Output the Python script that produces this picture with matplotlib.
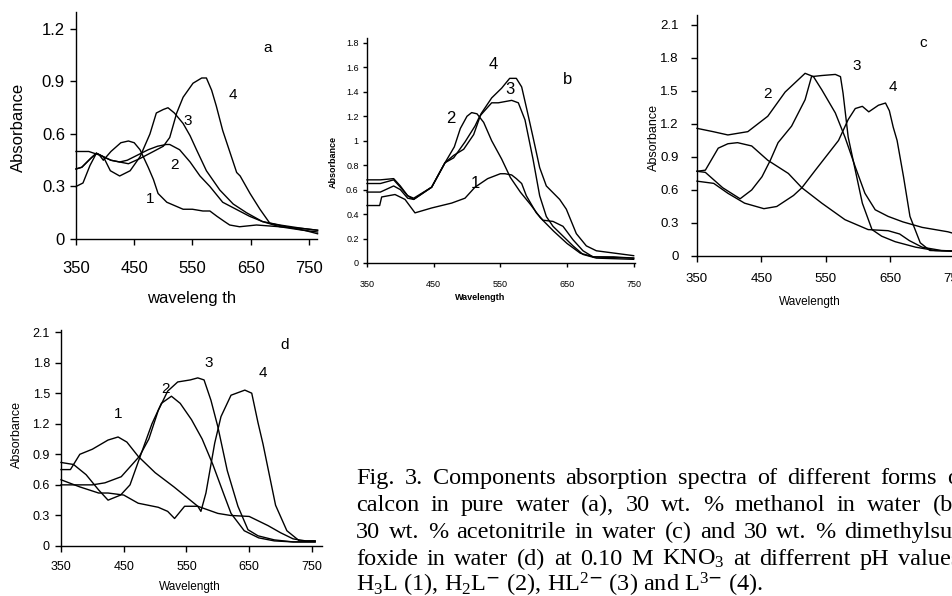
import matplotlib
matplotlib.use("Agg")
import matplotlib.pyplot as plt

plt.rcParams['font.family'] = ['Liberation Sans', 'DejaVu Sans']
plt.rcParams['mathtext.fontset'] = 'custom'
plt.rcParams['mathtext.rm'] = 'Liberation Serif'
plt.rcParams['mathtext.it'] = 'Liberation Serif'

W, H = 953, 596

# ---------------- data: panel a (pure water) ----------------
a1_wl = [350, 372, 390, 397, 410, 427, 440, 450, 460, 474, 483, 491, 506, 520, 534, 550, 568, 580, 592, 605, 614, 631, 660, 700, 740, 765]
a1_ab = [0.50, 0.50, 0.48, 0.45, 0.50, 0.55, 0.56, 0.55, 0.51, 0.41, 0.34, 0.26, 0.21, 0.19, 0.17, 0.17, 0.16, 0.16, 0.13, 0.10, 0.08, 0.07, 0.08, 0.07, 0.06, 0.05]
a2_wl = [350, 360, 375, 385, 397, 410, 425, 438, 456, 474, 490, 505, 511, 528, 546, 563, 580, 602, 625, 648, 670, 700, 740, 765]
a2_ab = [0.40, 0.41, 0.46, 0.49, 0.47, 0.45, 0.44, 0.45, 0.48, 0.51, 0.53, 0.54, 0.54, 0.51, 0.44, 0.36, 0.30, 0.21, 0.17, 0.13, 0.10, 0.08, 0.06, 0.05]
a3_wl = [350, 362, 374, 385, 397, 409, 425, 443, 460, 477, 488, 500, 508, 519, 534, 546, 557, 574, 597, 620, 643, 670, 700, 740, 765]
a3_ab = [0.30, 0.32, 0.42, 0.49, 0.47, 0.39, 0.36, 0.39, 0.47, 0.60, 0.72, 0.74, 0.75, 0.72, 0.66, 0.59, 0.51, 0.39, 0.28, 0.20, 0.15, 0.10, 0.07, 0.05, 0.04]
a4_wl = [350, 360, 375, 385, 397, 410, 425, 440, 460, 483, 500, 511, 523, 534, 551, 566, 574, 583, 591, 602, 614, 626, 632, 649, 666, 683, 711, 742, 765]
a4_ab = [0.40, 0.41, 0.46, 0.49, 0.47, 0.45, 0.44, 0.43, 0.46, 0.50, 0.53, 0.58, 0.72, 0.81, 0.89, 0.92, 0.92, 0.85, 0.76, 0.62, 0.50, 0.38, 0.36, 0.26, 0.17, 0.09, 0.07, 0.05, 0.03]

# ---------------- data: panel b (30 % methanol) ----------------
b1_wl = [350, 369, 372, 392, 407, 422, 447, 477, 497, 512, 531, 550, 557, 567, 574, 582, 589, 604, 614, 629, 644, 659, 674, 689, 720, 750]
b1_ab = [0.47, 0.47, 0.54, 0.56, 0.52, 0.41, 0.45, 0.49, 0.53, 0.62, 0.69, 0.73, 0.73, 0.72, 0.69, 0.65, 0.55, 0.41, 0.35, 0.34, 0.30, 0.19, 0.10, 0.05, 0.05, 0.04]
b2_wl = [350, 370, 390, 400, 411, 420, 447, 467, 481, 490, 500, 507, 515, 525, 537, 552, 565, 580, 595, 610, 630, 650, 670, 690, 750]
b2_ab = [0.65, 0.65, 0.68, 0.62, 0.55, 0.52, 0.62, 0.82, 0.95, 1.10, 1.20, 1.23, 1.22, 1.15, 1.00, 0.85, 0.70, 0.58, 0.48, 0.37, 0.26, 0.16, 0.08, 0.05, 0.04]
b3_wl = [350, 370, 390, 400, 411, 420, 447, 467, 480, 497, 512, 519, 537, 547, 567, 577, 587, 599, 609, 619, 629, 644, 659, 674, 694, 750]
b3_ab = [0.58, 0.58, 0.63, 0.60, 0.53, 0.52, 0.62, 0.82, 0.86, 0.99, 1.12, 1.20, 1.31, 1.31, 1.33, 1.31, 1.17, 0.85, 0.55, 0.38, 0.30, 0.22, 0.14, 0.07, 0.04, 0.03]
b4_wl = [350, 370, 390, 400, 411, 420, 447, 467, 480, 495, 510, 521, 537, 552, 564, 574, 582, 590, 599, 609, 619, 639, 649, 664, 679, 694, 750]
b4_ab = [0.68, 0.68, 0.69, 0.63, 0.55, 0.53, 0.62, 0.82, 0.88, 0.93, 1.05, 1.22, 1.35, 1.43, 1.51, 1.51, 1.44, 1.25, 1.03, 0.78, 0.63, 0.52, 0.44, 0.24, 0.14, 0.10, 0.06]

# ---------------- data: panel c (30 % acetonitrile) ----------------
c1_wl = [350, 363, 383, 398, 413, 435, 460, 492, 513, 544, 580, 616, 647, 665, 680, 700, 730, 770]
c1_ab = [0.77, 0.78, 0.98, 1.02, 1.03, 1.00, 0.87, 0.75, 0.62, 0.48, 0.33, 0.24, 0.23, 0.20, 0.14, 0.08, 0.05, 0.04]
c2_wl = [350, 375, 398, 429, 460, 487, 518, 531, 544, 565, 580, 596, 611, 627, 647, 670, 700, 740, 770]
c2_ab = [1.16, 1.13, 1.10, 1.13, 1.27, 1.49, 1.66, 1.63, 1.51, 1.30, 1.08, 0.81, 0.57, 0.42, 0.36, 0.31, 0.26, 0.22, 0.17]
c3_wl = [350, 363, 390, 417, 435, 451, 464, 476, 497, 518, 528, 544, 565, 573, 577, 585, 596, 607, 622, 637, 658, 690, 720, 770]
c3_ab = [0.77, 0.76, 0.62, 0.52, 0.60, 0.72, 0.87, 1.03, 1.18, 1.42, 1.63, 1.64, 1.65, 1.63, 1.48, 1.08, 0.78, 0.48, 0.24, 0.18, 0.13, 0.08, 0.05, 0.04]
c4_wl = [350, 376, 398, 424, 454, 474, 500, 513, 534, 554, 570, 585, 596, 607, 617, 632, 643, 649, 655, 661, 671, 681, 697, 712, 770]
c4_ab = [0.68, 0.66, 0.57, 0.48, 0.43, 0.45, 0.55, 0.62, 0.78, 0.93, 1.05, 1.24, 1.34, 1.36, 1.31, 1.37, 1.39, 1.32, 1.17, 1.05, 0.72, 0.36, 0.12, 0.05, 0.04]

# ---------------- data: panel d (30 % DMSO) ----------------
d1_wl = [350, 365, 380, 400, 425, 441, 455, 473, 500, 530, 568, 600, 620, 650, 680, 700, 720, 740, 755]
d1_ab = [0.75, 0.75, 0.90, 0.95, 1.04, 1.07, 1.02, 0.88, 0.72, 0.58, 0.39, 0.32, 0.30, 0.29, 0.20, 0.13, 0.07, 0.05, 0.05]
d2_wl = [350, 370, 390, 410, 425, 445, 460, 478, 495, 510, 526, 540, 558, 575, 592, 610, 621, 642, 665, 690, 720, 755]
d2_ab = [0.82, 0.80, 0.70, 0.55, 0.45, 0.50, 0.60, 0.91, 1.20, 1.40, 1.47, 1.40, 1.24, 1.05, 0.80, 0.50, 0.32, 0.15, 0.08, 0.05, 0.04, 0.04]
d3_wl = [350, 370, 400, 420, 446, 475, 490, 505, 520, 536, 556, 568, 578, 589, 600, 615, 632, 648, 664, 690, 720, 755]
d3_ab = [0.60, 0.60, 0.60, 0.62, 0.68, 0.88, 1.05, 1.33, 1.52, 1.61, 1.63, 1.65, 1.63, 1.43, 1.17, 0.74, 0.39, 0.16, 0.10, 0.06, 0.04, 0.04]
d4_wl = [350, 380, 410, 425, 450, 473, 489, 505, 520, 531, 547, 568, 573, 581, 595, 605, 621, 643, 654, 664, 672, 682, 692, 710, 730, 755]
d4_ab = [0.65, 0.58, 0.52, 0.52, 0.50, 0.42, 0.40, 0.38, 0.34, 0.27, 0.39, 0.39, 0.34, 0.52, 1.01, 1.27, 1.48, 1.53, 1.50, 1.21, 1.00, 0.70, 0.40, 0.15, 0.05, 0.05]

x_ticks = [350, 450, 550, 650, 750]
a_yticks = [0, 0.3, 0.6, 0.9, 1.2]
a_ylabels = ["0", "0.3", "0.6", "0.9", "1.2"]
b_yticks = [0, 0.2, 0.4, 0.6, 0.8, 1.0, 1.2, 1.4, 1.6, 1.8]
b_ylabels = ["0", "0.2", "0.4", "0.6", "0.8", "1", "1.2", "1.4", "1.6", "1.8"]
cd_yticks = [0, 0.3, 0.6, 0.9, 1.2, 1.5, 1.8, 2.1]
cd_ylabels = ["0", "0.3", "0.6", "0.9", "1.2", "1.5", "1.8", "2.1"]

caption_lines = [
    "Fig. 3. Components absorption spectra of different forms of",
    "calcon in pure water (a), 30 wt. % methanol in water (b),",
    "30 wt. % acetonitrile in water (c) and 30 wt. % dimethylsul-",
    "foxide in water (d) at 0.10 M KNO$_3$ at differrent pH values:",
    "H$_3$L (1), H$_2$L$^{\\mathsf{-}}$ (2), HL$^{2\\mathsf{-}}$ (3) and L$^{3\\mathsf{-}}$ (4).",
]

fig = plt.figure(figsize=(W / 100, H / 100), dpi=100)


def add_axes(x0, y0, x1, y1):
    return fig.add_axes([x0 / W, 1 - y0 / H, (x1 - x0) / W, (y0 - y1) / H])


def style(ax, xlim, ylim, yticks, ylabels, fs, xpad, ypad, tlen=4):
    ax.set_xlim(*xlim)
    ax.set_ylim(*ylim)
    ax.set_xticks(x_ticks)
    ax.set_xticklabels([str(t) for t in x_ticks])
    ax.set_yticks(yticks)
    ax.set_yticklabels(ylabels)
    for s in ["top", "right"]:
        ax.spines[s].set_visible(False)
    for s in ["left", "bottom"]:
        ax.spines[s].set_linewidth(1.0)
    ax.tick_params(direction="out", length=tlen, width=1.0, labelsize=fs)
    ax.tick_params(axis="x", pad=xpad)
    ax.tick_params(axis="y", pad=ypad)
    ax.patch.set_alpha(0)


def draw(ax, series):
    for wl, ab in series:
        ax.plot(wl, ab, color="black", lw=1.0, clip_on=False)


def ftext(x, y, s, **kw):
    return fig.text(x / W, 1 - y / H, s, **kw)


# panel a
axa = add_axes(76, 239, 317, 12)
style(axa, (350, 764), (0, 1.297), a_yticks, a_ylabels, 12, xpad=12, ypad=4)
draw(axa, [(a1_wl, a1_ab), (a2_wl, a2_ab), (a3_wl, a3_ab), (a4_wl, a4_ab)])
for s, x, y in [("a", 680, 1.09), ("1", 478, 0.227), ("2", 520, 0.42), ("3", 542, 0.676), ("4", 620, 0.82)]:
    axa.text(x, y, s, fontsize=11, ha="center", va="center")
ftext(18, 127, "Absorbance", rotation=90, fontsize=12, ha="center", va="center")
ftext(192, 299, "waveleng th", fontsize=12, ha="center", va="center")

# panel b
axb = add_axes(367, 263, 635, 38)
style(axb, (350, 752), (0, 1.84), b_yticks, b_ylabels, 6.5, xpad=9, ypad=3, tlen=3)
draw(axb, [(b1_wl, b1_ab), (b2_wl, b2_ab), (b3_wl, b3_ab), (b4_wl, b4_ab)])
for s, x, y in [("b", 651, 1.50), ("4", 539, 1.62), ("3", 564, 1.42), ("2", 476, 1.18), ("1", 512, 0.65)]:
    axb.text(x, y, s, fontsize=12, ha="center", va="center")
ftext(333, 162, "Absorbance", rotation=90, fontsize=6.5, ha="center", va="center", fontweight="bold")
ftext(480, 297, "Wavelength", fontsize=6.5, ha="center", va="center", fontweight="bold")

# panel c
axc = add_axes(697, 256, 964, 15)
style(axc, (350, 765), (0, 2.19), cd_yticks, cd_ylabels, 9.5, xpad=8, ypad=9)
draw(axc, [(c1_wl, c1_ab), (c2_wl, c2_ab), (c3_wl, c3_ab), (c4_wl, c4_ab)])
for s, x, y in [("c", 702, 1.94), ("3", 599, 1.73), ("4", 655, 1.54), ("2", 460, 1.47)]:
    axc.text(x, y, s, fontsize=11, ha="center", va="center")
ftext(654, 138, "Absorbance", rotation=90, fontsize=9, ha="center", va="center")
ftext(810, 302, "Wavelength", fontsize=8.5, ha="center", va="center")

# panel d
axd = add_axes(61, 546, 322, 330)
style(axd, (350, 766), (0, 2.12), cd_yticks, cd_ylabels, 9, xpad=7, ypad=4)
draw(axd, [(d1_wl, d1_ab), (d2_wl, d2_ab), (d3_wl, d3_ab), (d4_wl, d4_ab)])
for s, x, y in [("d", 707, 1.97), ("3", 586, 1.80), ("4", 672, 1.70), ("2", 516, 1.54), ("1", 441, 1.30)]:
    axd.text(x, y, s, fontsize=11, ha="center", va="center")
ftext(17, 435, "Absorbance", rotation=90, fontsize=9, ha="center", va="center")
ftext(190, 587, "Wavelength", fontsize=8.5, ha="center", va="center")

# caption (justified lines, last line left-aligned)
cap_base = [484, 511, 538, 565, 592]
cap_left, cap_right = 356, 967
cap_fs = 17.5
renderer = fig.canvas.get_renderer()
for i, (line, yb) in enumerate(zip(caption_lines, cap_base)):
    if i == len(caption_lines) - 1:
        ftext(cap_left, yb, line, fontsize=cap_fs, family="Liberation Serif", ha="left", va="baseline")
        continue
    words = line.split(" ")
    objs = [ftext(cap_left, yb, w_, fontsize=cap_fs, family="Liberation Serif", ha="left", va="baseline")
            for w_ in words]
    widths = [o.get_window_extent(renderer=renderer).width for o in objs]
    gap = (cap_right - cap_left - sum(widths)) / (len(words) - 1)
    x = cap_left
    for o, wd in zip(objs, widths):
        o.set_x(x / W)
        x += wd + gap

fig.savefig("out.png", dpi=100)
